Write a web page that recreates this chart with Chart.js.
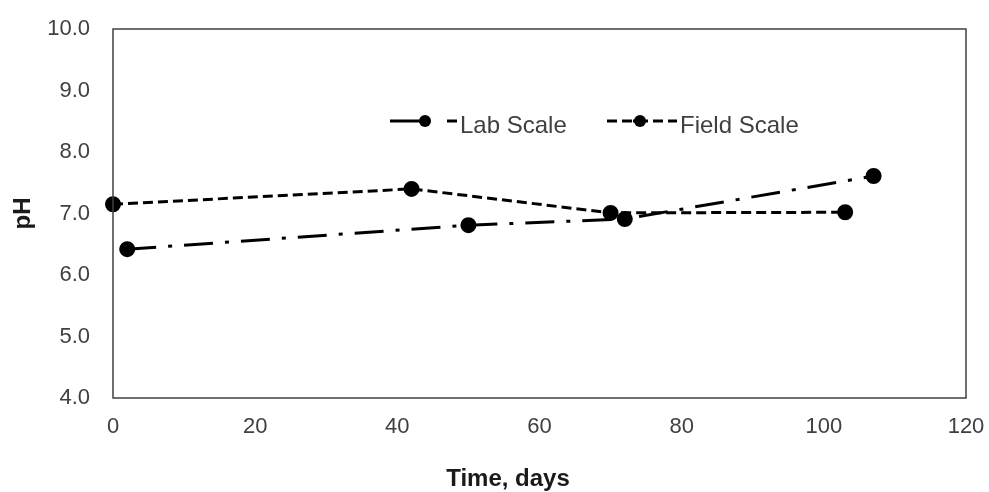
<!DOCTYPE html>
<html>
<head>
<meta charset="utf-8">
<script src="https://cdn.jsdelivr.net/npm/chart.js@4.4.1/dist/chart.umd.min.js"></script>
<style>
  html, body { margin: 0; padding: 0; background: #fff; }
  #wrap { width: 989px; height: 492px; position: relative; }
</style>
</head>
<body>
<div id="wrap"><canvas id="chartContainer"></canvas></div>
<script>
const labDays = [2, 50, 72, 107];
const labPH = [6.42, 6.81, 6.91, 7.61];
const fieldDays = [0, 42, 70, 103];
const fieldPH = [7.15, 7.40, 7.01, 7.02];
const xTicks = [0, 20, 40, 60, 80, 100, 120];
const yTicks = [4, 5, 6, 7, 8, 9, 10];

const labDash = [29, 12, 4, 12];
const fieldDash = [10, 5];
const textColor = "#404040";
const fontFamily = "'Liberation Sans', Arial, sans-serif";

function toPoints(xs, ys) {
    return xs.map((x, i) => ({ x: x, y: ys[i] }));
}

// box around the plot area
const frame = {
    id: "frame",
    afterDraw(chart) {
        const a = chart.chartArea;
        const ctx = chart.ctx;
        ctx.save();
        ctx.strokeStyle = "#404040";
        ctx.lineWidth = 1.5;
        ctx.strokeRect(a.left, a.top, a.right - a.left, a.bottom - a.top);
        ctx.restore();
    },
};

// x title sits a bit left of centre in the original
const xTitle = {
    id: "xTitle",
    afterDraw(chart) {
        const ctx = chart.ctx;
        ctx.save();
        ctx.fillStyle = "#1a1a1a";
        ctx.font = "bold 24px " + fontFamily;
        ctx.textAlign = "center";
        ctx.textBaseline = "alphabetic";
        ctx.fillText("Time, days", 508, 486);
        ctx.restore();
    },
};

// legend inside the plot, excel style
const insideLegend = {
    id: "insideLegend",
    afterDraw(chart) {
        const ctx = chart.ctx;
        const y = 121;
        const items = [
            { segs: [[390, 430], [447, 457]], dot: 425, tx: 460, ds: chart.data.datasets[0] },
            { segs: [[607, 617], [622, 632], [633, 648], [653, 663], [668, 677]], dot: 640, tx: 680, ds: chart.data.datasets[1] },
        ];
        ctx.save();
        items.forEach((it) => {
            ctx.strokeStyle = "#000";
            ctx.lineWidth = 3;
            it.segs.forEach((s) => {
                ctx.beginPath();
                ctx.moveTo(s[0], y);
                ctx.lineTo(s[1], y);
                ctx.stroke();
            });
            ctx.fillStyle = "#000";
            ctx.beginPath();
            ctx.arc(it.dot, y, 6, 0, Math.PI * 2);
            ctx.fill();
            ctx.fillStyle = textColor;
            ctx.font = "24px " + fontFamily;
            ctx.textBaseline = "alphabetic";
            ctx.textAlign = "left";
            ctx.fillText(it.ds.label, it.tx, 133);
        });
        ctx.restore();
    },
};

const ctx = document.getElementById("chartContainer");
const chart = new Chart(ctx, {
    type: "scatter",
    data: {
        datasets: [
            {
                label: "Lab Scale",
                data: toPoints(labDays, labPH),
                showLine: true,
                borderColor: "#000",
                backgroundColor: "#000",
                borderWidth: 3,
                borderDash: labDash,
                pointRadius: 6.5,
                pointHoverRadius: 6.5,
                clip: false,
            },
            {
                label: "Field Scale",
                data: toPoints(fieldDays, fieldPH),
                showLine: true,
                borderColor: "#000",
                backgroundColor: "#000",
                borderWidth: 3,
                borderDash: fieldDash,
                pointRadius: 6.5,
                pointHoverRadius: 6.5,
                clip: false,
            },
        ],
    },
    options: {
        responsive: true,
        maintainAspectRatio: false,
        animation: false,
        layout: { padding: { left: 0, right: 23, top: 29, bottom: 0 } },
        plugins: {
            legend: { display: false },
            tooltip: { enabled: false },
        },
        scales: {
            x: {
                type: "linear",
                min: 0,
                max: 120,
                afterBuildTicks: (s) => { s.ticks = xTicks.map((v) => ({ value: v })); },
                afterFit: (s) => {
                    s.height = 94;
                    s.paddingLeft = 0;
                    s.paddingRight = 0;
                },
                grid: { display: false, drawTicks: false },
                border: { display: false },
                ticks: {
                    padding: 16,
                    color: textColor,
                    font: { family: fontFamily, size: 22 },
                    maxRotation: 0,
                },
            },
            y: {
                min: 4,
                max: 10,
                afterBuildTicks: (s) => { s.ticks = yTicks.map((v) => ({ value: v })); },
                afterFit: (s) => {
                    s.width = 113;
                    s.paddingTop = 0;
                    s.paddingBottom = 0;
                },
                grid: { display: false, drawTicks: false },
                border: { display: false },
                ticks: {
                    padding: 23,
                    color: textColor,
                    font: { family: fontFamily, size: 22 },
                    callback: (v) => Number(v).toFixed(1),
                },
                title: {
                    display: true,
                    text: "pH",
                    color: "#1a1a1a",
                    font: { family: fontFamily, size: 24, weight: "bold" },
                    padding: { top: 9, bottom: 0 },
                },
            },
        },
    },
    plugins: [frame, xTitle, insideLegend],
});
</script>
</body>
</html>
